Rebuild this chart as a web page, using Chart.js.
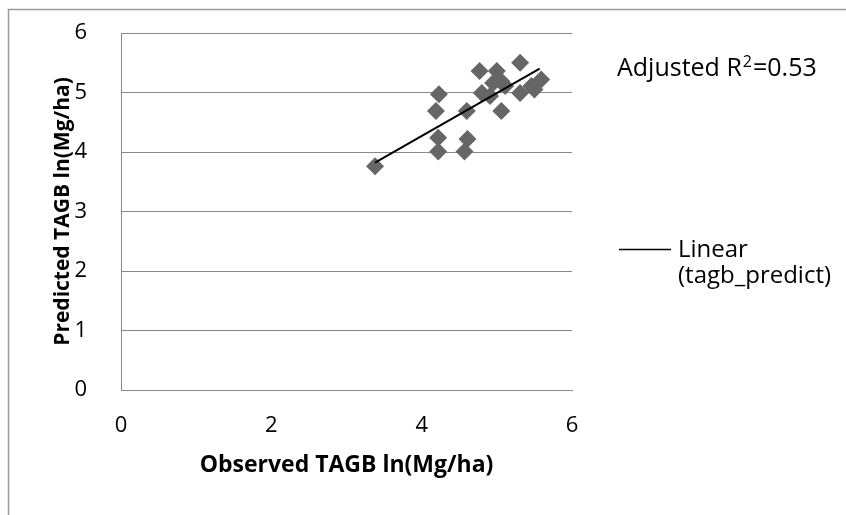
<!DOCTYPE html>
<html>
<head>
<meta charset="utf-8">
<script src="https://cdn.jsdelivr.net/npm/chart.js@4/dist/chart.umd.min.js"></script>
<style>
  html, body { margin: 0; padding: 0; background: #fff; }
  #c { display: block; }
</style>
</head>
<body>
<canvas id="c" width="846" height="515"></canvas>
<script>
// ---- data ----
const observedX = [3.38, 4.23, 4.19, 4.22, 4.22, 4.60, 4.61, 4.57, 4.77, 5.00, 5.31, 4.80, 4.95, 5.06, 5.11, 5.31, 5.46, 5.59, 4.91, 5.06, 5.50];
const predictedY = [3.76, 4.97, 4.69, 4.24, 4.01, 4.69, 4.22, 4.01, 5.36, 5.36, 5.50, 4.99, 5.16, 4.69, 5.11, 4.99, 5.11, 5.22, 4.94, 5.19, 5.05];
const trendX = [3.38, 5.57];
const trendY = [3.82, 5.40];
const xTicks = [0, 2, 4, 6];
const yTicks = [0, 1, 2, 3, 4, 5, 6];
const xTitle = 'Observed TAGB ln(Mg/ha)';
const yTitle = 'Predicted TAGB ln(Mg/ha)';
const trendLabel = ['Linear', '(tagb_predict)'];
const annotationParts = ['Adjusted R', '2', '=0.53'];

const FONT = '"Open Sans", Calibri, Carlito, sans-serif';
const GRID = '#888888';

const scatterPts = observedX.map((x, i) => ({ x: x, y: predictedY[i] }));
const trendPts = trendX.map((x, i) => ({ x: x, y: trendY[i] }));

const extras = {
  id: 'extras',
  afterDraw(chart) {
    const ctx = chart.ctx;
    ctx.save();
    // outer frame (top and left edges)
    ctx.strokeStyle = '#9a9a9a';
    ctx.lineWidth = 1.5;
    ctx.beginPath();
    ctx.moveTo(8.5, 515);
    ctx.lineTo(8.5, 9.5);
    ctx.lineTo(846, 9.5);
    ctx.stroke();
    // annotation with superscript
    ctx.fillStyle = '#000';
    ctx.textBaseline = 'alphabetic';
    ctx.textAlign = 'left';
    let ax = 617;
    const base = 76;
    ctx.font = '25px ' + FONT;
    ctx.fillText(annotationParts[0], ax, base);
    ax += ctx.measureText(annotationParts[0]).width + 1;
    ctx.font = '16px ' + FONT;
    ctx.fillText(annotationParts[1], ax, base - 9);
    ax += ctx.measureText(annotationParts[1]).width + 1;
    ctx.font = '25px ' + FONT;
    ctx.fillText(annotationParts[2], ax, base);
    // legend
    ctx.textBaseline = 'middle';
    ctx.strokeStyle = '#000';
    ctx.lineWidth = 1.5;
    ctx.beginPath();
    ctx.moveTo(619, 249.5);
    ctx.lineTo(671, 249.5);
    ctx.stroke();
    ctx.font = '24px ' + FONT;
    ctx.fillText(trendLabel[0], 678, 250);
    ctx.fillText(trendLabel[1], 678, 276);
    ctx.restore();
  }
};

new Chart(document.getElementById('c'), {
  type: 'scatter',
  data: {
    datasets: [
      {
        type: 'line',
        label: trendLabel.join(' '),
        data: trendPts,
        borderColor: '#000',
        borderWidth: 2,
        pointRadius: 0,
        fill: false,
        order: 0
      },
      {
        label: 'tagb_predict',
        data: scatterPts,
        pointStyle: 'rectRot',
        pointRadius: 9,
        pointHoverRadius: 9,
        backgroundColor: '#666666',
        borderColor: '#666666',
        borderWidth: 0,
        order: 1
      }
    ]
  },
  options: {
    responsive: false,
    animation: false,
    events: [],
    layout: { padding: { left: 0, top: 33, right: 274, bottom: 0 } },
    plugins: { legend: { display: false }, tooltip: { enabled: false } },
    scales: {
      x: {
        type: 'linear',
        min: 0, max: 6,
        afterBuildTicks: s => { s.ticks = xTicks.map(v => ({ value: v })); },
        afterFit: s => { s.height = 125; },
        grid: { display: false, drawTicks: false },
        border: { display: true, color: GRID, width: 1 },
        ticks: { color: '#000', font: { family: FONT, size: 22 }, padding: 23, maxRotation: 0 },
        title: { display: true, text: xTitle, color: '#000', font: { family: FONT, size: 23, weight: 'bold' }, padding: { top: 0, bottom: 36 } }
      },
      y: {
        type: 'linear',
        min: 0, max: 6,
        afterBuildTicks: s => { s.ticks = yTicks.map(v => ({ value: v })); },
        afterFit: s => { s.width = 121; },
        grid: { display: true, color: GRID, lineWidth: 1, drawTicks: true, tickLength: 34, tickColor: 'rgba(0,0,0,0)' },
        border: { display: true, color: GRID, width: 1 },
        ticks: { color: '#000', font: { family: FONT, size: 22 }, padding: 0 },
        title: { display: true, text: yTitle, color: '#000', font: { family: FONT, size: 21, weight: 'bold' }, padding: { top: 50, bottom: 0 } }
      }
    }
  },
  plugins: [extras]
});
</script>
</body>
</html>
